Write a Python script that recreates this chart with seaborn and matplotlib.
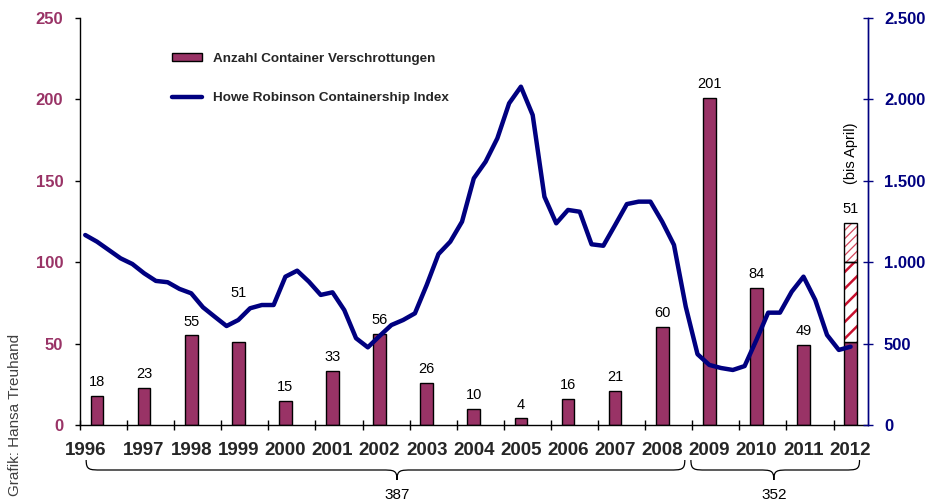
import numpy as np
import pandas as pd
import matplotlib
matplotlib.use("Agg")
import matplotlib.pyplot as plt
import seaborn as sns
from matplotlib import transforms
from matplotlib.path import Path
from matplotlib.patches import PathPatch, Patch
from matplotlib.lines import Line2D
from matplotlib.ticker import FixedLocator

# ---- data -------------------------------------------------------------
years = [str(y) for y in range(1996, 2013)]
scrappings = [18, 23, 55, 51, 15, 33, 56, 26, 10, 4, 16, 21, 60, 201, 84, 49, 51]
projection_2012 = [100, 124]          # extrapolated levels for the running year
index_quarterly = [
    1167, 1126, 1075, 1024, 989, 932, 885, 877, 836, 809, 723, 665, 608,
    645, 717, 737, 737, 911, 948, 880, 799, 815, 706, 533, 477, 547, 614,
    645, 686, 860, 1050, 1126, 1249, 1515, 1617, 1761, 1976, 2078, 1904,
    1402, 1239, 1321, 1310, 1110, 1101, 1228, 1357, 1372, 1372, 1249, 1106,
    727, 435, 369, 350, 338, 362, 522, 690, 690, 819, 911, 768, 553, 461, 481,
]
group_totals = ["387", "352"]
bar_label = "Anzahl Container Verschrottungen"
line_label = "Howe Robinson Containership Index"
left_ticks = [0, 50, 100, 150, 200, 250]
right_ticks = [0, 500, 1000, 1500, 2000, 2500]

MAROON = "#993366"
NAVY = "#000080"

sns.set_theme(style="white")
plt.rcParams["font.family"] = ["Liberation Sans", "DejaVu Sans"]
plt.rcParams["hatch.linewidth"] = 1.6

W, H = 929, 504
fig = plt.figure(figsize=(W / 100, H / 100), dpi=100)
ax = fig.add_axes([80 / W, 1 - 425 / H, (868.3 - 80) / W, (425 - 18) / H])
ax2 = ax.twinx()

# ---- bars -------------------------------------------------------------
df = pd.DataFrame({"Jahr": years, "Anzahl": scrappings})
BW = 0.27
sns.barplot(data=df, x="Jahr", y="Anzahl", ax=ax, color=MAROON, saturation=1,
            width=BW, edgecolor="black", linewidth=1, zorder=2)

i12 = years.index("2012")
seg_bottoms = [scrappings[i12]] + projection_2012[:-1]
seg_hatch = ["//", "////"]
seg_color = ["#C8102E", "#D4485E"]
seg_hlw = [1.8, 0.9]
for b, t, h, c, hl in zip(seg_bottoms, projection_2012, seg_hatch, seg_color, seg_hlw):
    bars = ax.bar(i12, t - b, bottom=b, width=BW, color="white", edgecolor=c,
                  hatch=h, linewidth=0, zorder=2)
    for p in bars.patches:
        if hasattr(p, "set_hatch_linewidth"):
            p.set_hatch_linewidth(hl)
    ax.bar(i12, t - b, bottom=b, width=BW, fill=False, edgecolor="black",
           linewidth=1, zorder=3)

# value labels above the bars
label_lift = {"1999": 25}
tops = list(scrappings)
tops[i12] = projection_2012[-1]
for i, (yr, v, top) in enumerate(zip(years, scrappings, tops)):
    ax.annotate(str(v), (i, top), xytext=(0, 5 + label_lift.get(yr, 0)),
                textcoords="offset points", ha="center", va="bottom",
                fontsize=10.5, color="black")
ax.text(i12, 167, "(bis April)", rotation=90, ha="center", va="center",
        fontsize=10.5, color="black")

# ---- index line --------------------------------------------------------
qpos = -0.25 + 0.25 * np.arange(len(index_quarterly))
sns.lineplot(x=qpos, y=index_quarterly, ax=ax2, color=NAVY, linewidth=3.2,
             zorder=4)

# ---- axes --------------------------------------------------------------
x_left = -0.361
ax.set_xlim(x_left, 16.376)
ax.set_ylim(0, 250)
ax2.set_ylim(0, 2500)
ax.set_xlabel("")
ax.set_ylabel("")
ax2.set_ylabel("")

ax.set_xticks(range(len(years)), years, fontweight="bold", fontsize=13.5)
ax.xaxis.set_minor_locator(FixedLocator(np.arange(len(years)) + x_left))
ax.tick_params(axis="x", which="major", length=0, pad=12, bottom=True)
ax.tick_params(axis="x", which="minor", direction="inout", length=7,
               width=1, color="black", bottom=True)

ax.set_yticks(left_ticks, [str(t) for t in left_ticks], fontweight="bold",
              fontsize=12)
ax.tick_params(axis="y", which="major", direction="out", length=3.6, width=1,
               color="black", labelcolor=MAROON, pad=8.5, left=True)

ax2.set_yticks(right_ticks, [f"{t:,}".replace(",", ".") for t in right_ticks],
               fontweight="bold", fontsize=12)
ax2.tick_params(axis="y", which="major", direction="inout", length=6.5,
                width=1, color=NAVY, labelcolor=NAVY, pad=8, right=True)

for a in (ax, ax2):
    a.spines["top"].set_visible(False)
    a.spines["left"].set_color("black")
    a.spines["bottom"].set_color("black")
    a.spines["right"].set_color(NAVY)
    for s in a.spines.values():
        s.set_linewidth(1)
ax2.spines["left"].set_visible(False)
ax2.spines["bottom"].set_visible(False)

first = ax.get_xticklabels()[0]
first.set_transform(first.get_transform()
                    + transforms.ScaledTranslation(-0.11, 0, fig.dpi_scale_trans))

# ---- legend ------------------------------------------------------------
handles = [Patch(facecolor=MAROON, edgecolor="black", linewidth=1),
           Line2D([], [], color=NAVY, linewidth=3.2)]
ax2.legend(handles, [bar_label, line_label], loc="upper left",
           bbox_to_anchor=(172 / W, 1 - 53 / H), bbox_transform=fig.transFigure,
           frameon=False, prop={"weight": "bold", "size": 9.7},
           handlelength=2.2, handleheight=0.55, handletextpad=0.85,
           labelspacing=2.0, borderpad=0, borderaxespad=0)

# ---- group braces below the year labels --------------------------------
brace_x = [(-0.23, 12.48, 6.37), (12.61, 16.19, 14.37)]
bt = transforms.blended_transform_factory(ax.transData, fig.transFigure)


def fy(px):
    return 1 - px / H


def brace(x0, x1, xm, dx=0.33, y_end=460, y_flat=470, y_tip=480):
    ye, yf, yt = fy(y_end), fy(y_flat), fy(y_tip)
    verts = [
        (x0, ye), (x0, yf), (x0 + dx * 0.2, yf), (x0 + dx, yf),
        (xm - dx, yf),
        (xm - dx * 0.2, yf), (xm, yf), (xm, yt),
        (xm, yf), (xm + dx * 0.2, yf), (xm + dx, yf),
        (x1 - dx, yf),
        (x1 - dx * 0.2, yf), (x1, yf), (x1, ye),
    ]
    codes = ([Path.MOVETO] + [Path.CURVE4] * 3 + [Path.LINETO]
             + [Path.CURVE4] * 3 + [Path.CURVE4] * 3 + [Path.LINETO]
             + [Path.CURVE4] * 3)
    fig.add_artist(PathPatch(Path(verts, codes), transform=bt, fill=False,
                             edgecolor="black", linewidth=0.9, clip_on=False))


for (x0, x1, xm), total in zip(brace_x, group_totals):
    brace(x0, x1, xm)
    fig.text(xm, fy(495), total, transform=bt, ha="center", va="center",
             fontsize=11, color="black")

fig.text(15.5 / W, fy(415), "Grafik: Hansa Treuhand", rotation=90,
         ha="center", va="center", fontsize=11, color="#404040")

fig.savefig("out.png", dpi=100)
